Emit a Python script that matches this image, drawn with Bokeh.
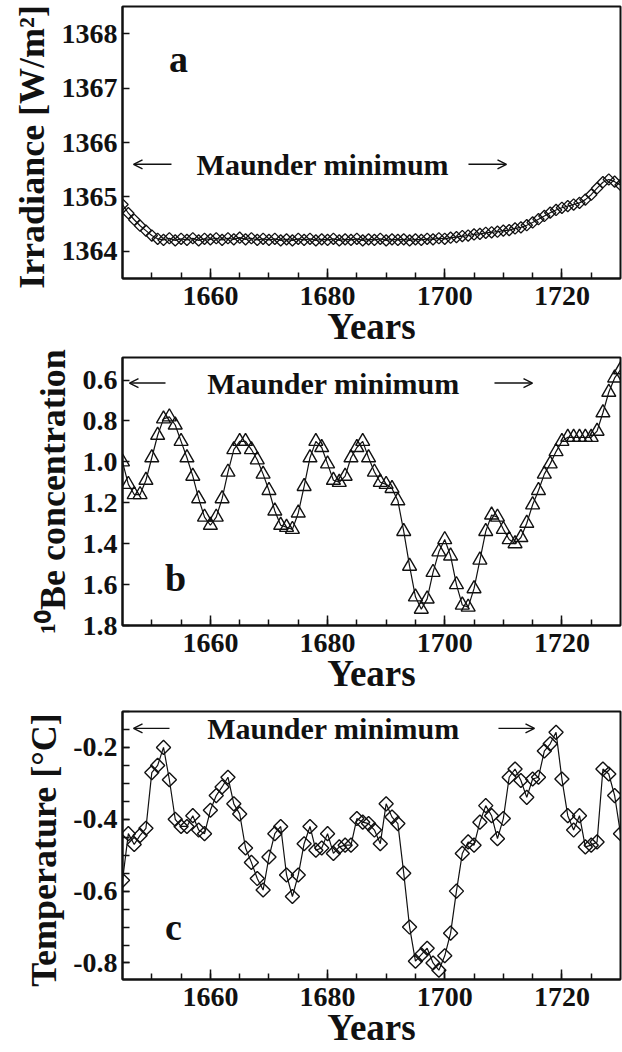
import math
from bokeh.plotting import figure
from bokeh.models import Range1d, FixedTicker, PrintfTickFormatter, Label, Arrow, OpenHead, Title
from bokeh.layouts import column
from bokeh.embed import file_html
from bokeh.resources import INLINE

# ---------------- data ----------------
years = list(range(1645, 1731))

irradiance = [
    1364.86, 1364.70, 1364.58, 1364.47, 1364.38, 1364.29, 1364.23, 1364.21, 1364.24, 1364.20,
    1364.23, 1364.21, 1364.24, 1364.20, 1364.23, 1364.22, 1364.24, 1364.21, 1364.24, 1364.22,
    1364.25, 1364.22, 1364.24, 1364.21, 1364.23, 1364.21, 1364.23, 1364.20, 1364.22, 1364.20,
    1364.23, 1364.21, 1364.23, 1364.20, 1364.22, 1364.21, 1364.23, 1364.20, 1364.22, 1364.21,
    1364.23, 1364.20, 1364.22, 1364.21, 1364.23, 1364.20, 1364.22, 1364.21, 1364.22, 1364.20,
    1364.22, 1364.21, 1364.23, 1364.22, 1364.24, 1364.23, 1364.25, 1364.26, 1364.28, 1364.29,
    1364.31, 1364.32, 1364.34, 1364.35, 1364.36, 1364.38, 1364.39, 1364.42, 1364.44, 1364.48,
    1364.53, 1364.59, 1364.65, 1364.71, 1364.76, 1364.80, 1364.83, 1364.86, 1364.89, 1364.95,
    1365.04, 1365.16, 1365.27, 1365.32, 1365.28, 1365.22,
]

be10 = [
    1.00, 1.11, 1.16, 1.16, 1.09, 0.98, 0.87, 0.79, 0.78, 0.82,
    0.90, 0.98, 1.07, 1.18, 1.27, 1.31, 1.27, 1.18, 1.05, 0.94,
    0.90, 0.90, 0.94, 0.99, 1.06, 1.14, 1.24, 1.31, 1.32, 1.33,
    1.25, 1.12, 0.98, 0.90, 0.93, 1.01, 1.09, 1.10, 1.07, 0.98,
    0.93, 0.90, 0.98, 1.05, 1.10, 1.11, 1.13, 1.19, 1.34, 1.51,
    1.66, 1.72, 1.67, 1.54, 1.44, 1.38, 1.46, 1.60, 1.70, 1.71,
    1.62, 1.48, 1.34, 1.26, 1.27, 1.33, 1.38, 1.40, 1.37, 1.30,
    1.21, 1.14, 1.06, 1.01, 0.95, 0.90, 0.88, 0.88, 0.88, 0.88,
    0.88, 0.85, 0.76, 0.66, 0.59, 0.55,
]

temperature = [
    -0.57, -0.44, -0.47, -0.445, -0.425, -0.27, -0.25, -0.20, -0.29, -0.40,
    -0.42, -0.42, -0.39, -0.43, -0.44, -0.375, -0.334, -0.31, -0.283, -0.357,
    -0.385, -0.48, -0.52, -0.565, -0.597, -0.505, -0.44, -0.42, -0.555, -0.615,
    -0.555, -0.468, -0.42, -0.486, -0.48, -0.44, -0.495, -0.477, -0.472, -0.472,
    -0.398, -0.408, -0.412, -0.43, -0.468, -0.357, -0.394, -0.412, -0.55, -0.70,
    -0.795, -0.777, -0.759, -0.80, -0.82, -0.78, -0.717, -0.60, -0.495, -0.463,
    -0.472, -0.408, -0.362, -0.39, -0.454, -0.398, -0.283, -0.26, -0.292, -0.339,
    -0.288, -0.283, -0.21, -0.19, -0.158, -0.288, -0.39, -0.43, -0.39, -0.477,
    -0.472, -0.463, -0.26, -0.274, -0.334, -0.44,
]

x_major_ticks = [1660, 1680, 1700, 1720]
x_minor_ticks = [1650, 1655, 1660, 1665, 1670, 1675, 1680, 1685, 1690, 1695,
                 1700, 1705, 1710, 1715, 1720, 1725]
irr_ticks = [1364, 1365, 1366, 1367, 1368]
be_ticks = [0.6, 0.8, 1.0, 1.2, 1.4, 1.6, 1.8]
temp_ticks = [-0.8, -0.6, -0.4, -0.2]
temp_minor = [-0.85, -0.8, -0.75, -0.7, -0.65, -0.6, -0.55, -0.5, -0.45, -0.4,
              -0.35, -0.3, -0.25, -0.2, -0.15, -0.1]

FONT = "Liberation Serif"
INK = "#111111"


def make_fig(y_range, frame_h, top, y_ticks, y_minor, y_fmt, ylabel, yoff):
    p = figure(frame_width=498, frame_height=frame_h,
               x_range=Range1d(1645, 1730), y_range=y_range,
               output_backend="svg", toolbar_location=None,
               min_border_left=122, min_border_right=2,
               min_border_top=top, min_border_bottom=0,
               background_fill_color="white", border_fill_color="white")
    p.grid.visible = False
    p.outline_line_color = INK
    p.outline_line_width = 2
    p.xaxis.ticker = FixedTicker(ticks=x_major_ticks, minor_ticks=x_minor_ticks)
    p.yaxis.ticker = FixedTicker(ticks=y_ticks, minor_ticks=y_minor)
    p.yaxis.formatter = PrintfTickFormatter(format=y_fmt)
    for ax in (p.xaxis, p.yaxis):
        ax.axis_line_color = INK
        ax.axis_line_width = 2
        ax.major_tick_out = 0
        ax.minor_tick_out = 0
        ax.major_tick_line_color = INK
        ax.minor_tick_line_color = INK
        ax.major_tick_line_width = 1.5
        ax.minor_tick_line_width = 1.5
        ax.major_label_text_font = FONT
        ax.major_label_text_font_style = "bold"
        ax.major_label_text_font_size = "28px"
        ax.major_label_text_color = INK
        ax.axis_label_text_font = FONT
        ax.axis_label_text_font_style = "bold"
        ax.axis_label_text_color = INK
    p.xaxis.major_tick_in = 10
    p.xaxis.minor_tick_in = 6
    p.yaxis.major_tick_in = 7
    p.yaxis.minor_tick_in = 7
    p.xaxis.major_label_standoff = 8
    p.yaxis.major_label_standoff = 5
    p.xaxis.axis_label = "Years"
    p.xaxis.axis_label_text_font_size = "37px"
    p.xaxis.axis_label_standoff = -2
    p.add_layout(Title(text=ylabel, align="center", offset=yoff, standoff=14,
                       text_font=FONT, text_font_style="bold",
                       text_font_size="36px", text_color=INK), "left")
    return p


def add_text(p, x, y, text, size):
    p.add_layout(Label(x=x, y=y, text=text, text_font=FONT,
                       text_font_style="bold",
                       text_font_size=size, text_color=INK,
                       text_align="center", text_baseline="middle"))


def add_arrow(p, x0, x1, y):
    p.add_layout(Arrow(x_start=x0, y_start=y, x_end=x1, y_end=y,
                       line_color=INK, line_width=1.4,
                       end=OpenHead(size=9, line_color=INK, line_width=1.4)))


def maunder(p, y, xm, la, ra):
    add_arrow(p, la[1], la[0], y)
    add_text(p, xm, y, "Maunder minimum", "30px")
    add_arrow(p, ra[0], ra[1], y)


# ---------------- panel a ----------------
pa = make_fig(Range1d(1363.5, 1368.5), 272, 6, irr_ticks, [], "%d",
              "Irradiance  [W/m\u00b2]", -16)
pa.line(years, irradiance, line_color=INK, line_width=1.2)
pa.scatter(years, irradiance, marker="square", angle=math.pi / 4, size=8,
           fill_color=None, line_color=INK, line_width=1.3)
add_text(pa, 1654.56, 1367.53, "a", "38px")
maunder(pa, 1365.60, 1679.2, (1646.88, 1653.36), (1704.05, 1710.54))

# ---------------- panel b ----------------
pb = make_fig(Range1d(1.8, 0.49), 268, 8, be_ticks, [], "%.1f",
              "\u00b9\u2070Be concentration", -6)
pb.line(years, be10, line_color=INK, line_width=1.2)
pb.scatter(years, be10, marker="triangle", size=14,
           fill_color=None, line_color=INK, line_width=1.4)
add_text(pb, 1654.05, 1.567, "b", "38px")
maunder(pb, 0.615, 1681.0, (1646.19, 1652.34), (1708.49, 1714.98))

# ---------------- panel c ----------------
pc = make_fig(Range1d(-0.846, -0.10), 268, 15, temp_ticks, temp_minor, "%.1f",
              "Temperature  [\u00b0C]", 3)
pc.line(years, temperature, line_color=INK, line_width=1.2)
pc.scatter(years, temperature, marker="square", angle=math.pi / 4, size=10,
           fill_color=None, line_color=INK, line_width=1.4)
add_text(pc, 1653.7, -0.70, "c", "38px")
maunder(pc, -0.147, 1681.0, (1646.88, 1653.02), (1709.17, 1715.32))

layout = column(pa, pb, pc, spacing=0)
open("out.html", "w").write(file_html(layout, INLINE))
